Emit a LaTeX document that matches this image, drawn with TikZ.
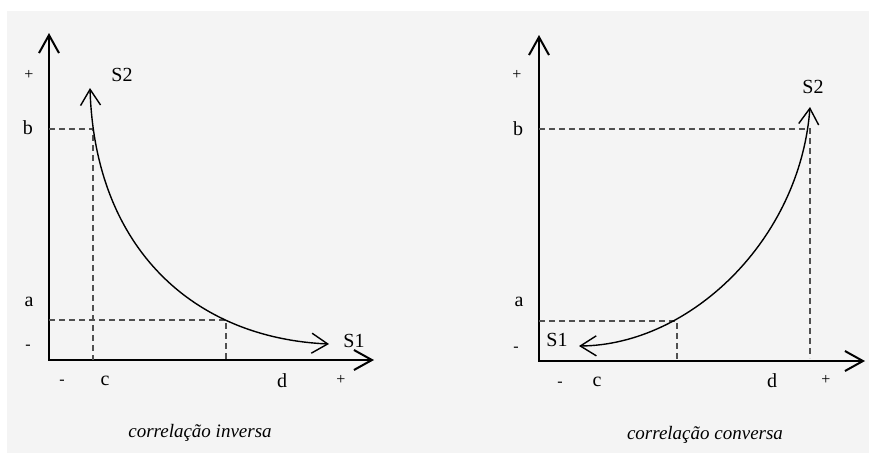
\documentclass[tikz,border=0pt]{standalone}
\usepackage{fontspec}
\setmainfont{Liberation Serif}
\usepackage{tikz}
\usetikzlibrary{arrows.meta}
\definecolor{fundo}{RGB}{244,244,244}
\definecolor{tracejado}{RGB}{80,80,80}
\tikzset{
  eixo/.style    = {{Straight Barb[length=9pt,width=10pt]}-{Straight Barb[length=9pt,width=10pt]},line width=1pt},
  curva/.style   = {{Straight Barb[length=8pt,width=10pt]}-{Straight Barb[length=8pt,width=10pt]},line width=0.7pt},
  guia/.style    = {tracejado,dash pattern=on 3pt off 2pt,line width=0.6pt},
  rotulo/.style  = {font=\fontsize{10}{12}\selectfont},
  sinal/.style   = {font=\fontsize{8}{10}\selectfont},
  legenda/.style = {font=\fontsize{9.5}{11}\selectfont\itshape}
}
\newcommand{\sinais}[5]{% nome, -/+ do eixo y e -/+ do eixo x
  \node[sinal] (#1my) at (#2) {-};
  \node[sinal] (#1py) at (#3) {+};
  \node[sinal] (#1mx) at (#4) {-};
  \node[sinal] (#1px) at (#5) {+};
}

\begin{document}
\begin{tikzpicture}[x=0.5pt,y=-0.5pt]
  \useasboundingbox (0,0) rectangle (869,462);
  \fill[fundo] (7,11) rectangle (869,453);

  % correlacao inversa
  \coordinate (oI) at (49,360);
  \coordinate (yI) at (49,33);
  \coordinate (xI) at (374,360);
  \draw[eixo] (yI) -- (oI) -- (xI);
  \coordinate (bI) at (49,129);
  \coordinate (pbI) at (93,129);
  \coordinate (cI) at (93,360);
  \coordinate (aI) at (49,320);
  \coordinate (paI) at (226,320);
  \coordinate (dI) at (226,360);
  \draw[guia] (bI) -- (pbI) -- (cI);
  \draw[guia] (aI) -- (paI) -- (dI);
  \coordinate (s2I) at (90,88);
  \coordinate (s1I) at (329,344);
  \draw[curva] (s2I) .. controls (95,250) and (195,338) .. (s1I);
  \sinais{I}{28,347}{29,75}{62,382}{341,380}
  \node[rotulo] (lbI) at (28,128) {b};
  \node[rotulo] (laI) at (29,302) {a};
  \node[rotulo] (lcI) at (105,381) {c};
  \node[rotulo] (ldI) at (282,381) {d};
  \node[rotulo] (ls2I) at (122,75) {S2};
  \node[rotulo] (ls1I) at (354,341) {S1};
  \node[legenda] (capI) at (200,433) {correlação inversa};

  % correlacao conversa
  \coordinate (oC) at (539,361);
  \coordinate (yC) at (539,35);
  \coordinate (xC) at (865,361);
  \draw[eixo] (yC) -- (oC) -- (xC);
  \coordinate (bC) at (539,129);
  \coordinate (pbC) at (810,129);
  \coordinate (dC) at (810,358);
  \coordinate (aC) at (539,321);
  \coordinate (paC) at (677,321);
  \coordinate (cC) at (677,361);
  \draw[guia] (bC) -- (pbC) -- (dC);
  \draw[guia] (aC) -- (paC) -- (cC);
  \coordinate (s1C) at (579,346);
  \coordinate (s2C) at (810,107);
  \draw[curva] (s1C) .. controls (690,345) and (800,240) .. (s2C);
  \sinais{C}{516,349}{517,75}{560,384}{826,380}
  \node[rotulo] (lbC) at (518,129) {b};
  \node[rotulo] (laC) at (519,302) {a};
  \node[rotulo] (lcC) at (597,382) {c};
  \node[rotulo] (ldC) at (772,381) {d};
  \node[rotulo] (ls2C) at (813,87) {S2};
  \node[rotulo] (ls1C) at (557,340) {S1};
  \node[legenda] (capC) at (705,435) {correlação conversa};
\end{tikzpicture}
\end{document}
